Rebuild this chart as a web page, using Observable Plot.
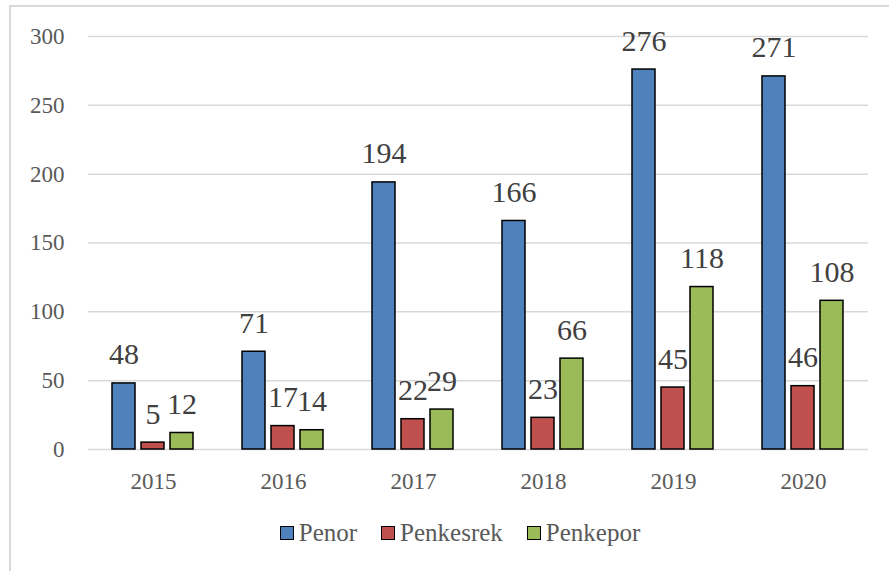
<!DOCTYPE html>
<html>
<head>
<meta charset="utf-8">
<script src="https://cdn.jsdelivr.net/npm/d3@7"></script>
<script src="https://cdn.jsdelivr.net/npm/@observablehq/plot@0.6"></script>
<style>
  body { margin: 0; padding: 0; background: #fff; }
  body, body * { font-family: 'Liberation Serif', 'Times New Roman', serif !important; }
  #frame { position: absolute; left: 9px; top: 5px; width: 878px; height: 564px; border-left: 2px solid #d9d9d9; border-top: 2px solid #d9d9d9; }
  #chart { position: absolute; left: 0; top: 0; }
  #legend { position: absolute; left: 0; top: 519px; width: 920px; display: flex; justify-content: center; gap: 24px;
            font-size: 25px; color: #595959; }
  .item { display: flex; align-items: center; gap: 5px; }
  .sw { width: 12px; height: 12px; border: 1.5px solid #000; }
</style>
</head>
<body>
<div id="frame"></div>
<div id="chart"></div>
<div id="legend"></div>
<script>
const years = ["2015", "2016", "2017", "2018", "2019", "2020"];
const seriesNames = ["Penor", "Penkesrek", "Penkepor"];
const penor = [48, 71, 194, 166, 276, 271];
const penkesrek = [5, 17, 22, 23, 45, 46];
const penkepor = [12, 14, 29, 66, 118, 108];
const colors = ["#4f81bd", "#c0504d", "#9bbb59"];
const yTicks = [0, 50, 100, 150, 200, 250, 300];

const seriesValues = [penor, penkesrek, penkepor];
const data = [];
years.forEach((y, i) => {
  seriesNames.forEach((s, j) => data.push({year: y, series: s, value: seriesValues[j][i]}));
});

const chart = Plot.plot({
  width: 889,
  height: 500,
  marginLeft: 86,
  marginRight: 19,
  marginTop: 36,
  marginBottom: 51,
  style: {fontFamily: "serif", fontSize: "23px", color: "#595959"},
  fx: {domain: years, padding: 0, label: null, tickSize: 0, tickPadding: 23},
  x: {domain: seriesNames, paddingInner: 0.2, paddingOuter: 0.8, axis: null},
  y: {domain: [0, 300], ticks: yTicks, label: null, tickSize: 0, tickPadding: 24},
  color: {domain: seriesNames, range: colors},
  marks: [
    Plot.ruleY(yTicks, {stroke: "#d9d9d9", strokeWidth: 1.5}),
    Plot.barY(data, {fx: "year", x: "series", y: "value", fill: "series", stroke: "#000", strokeWidth: 1.5}),
    Plot.text(data, {fx: "year", x: "series", y: "value", text: d => String(d.value), lineAnchor: "bottom", dy: -19,
                     fontSize: 30, fontFamily: "serif", fill: "#404040"})
  ]
});
chart.style.background = "transparent";
document.getElementById("chart").appendChild(chart);

const legend = document.getElementById("legend");
seriesNames.forEach((s, i) => {
  const item = document.createElement("div");
  item.className = "item";
  const sw = document.createElement("div");
  sw.className = "sw";
  sw.style.background = colors[i];
  const t = document.createElement("span");
  t.textContent = s;
  t.style.fontFamily = "serif";
  item.appendChild(sw);
  item.appendChild(t);
  legend.appendChild(item);
});
</script>
</body>
</html>
